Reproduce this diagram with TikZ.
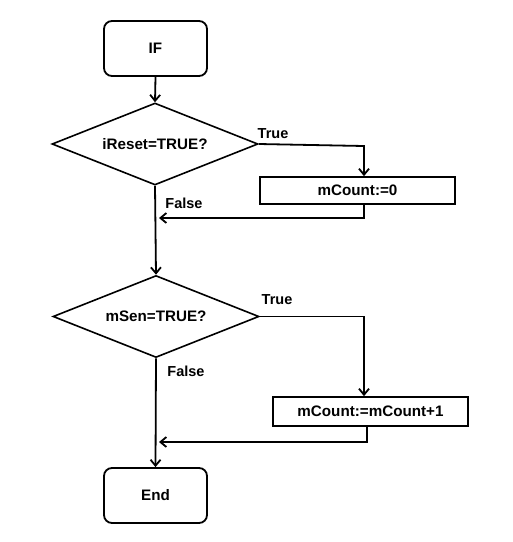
\documentclass[tikz,border=0pt]{standalone}
\usepackage{fontspec}
\setmainfont{Liberation Sans}
\usetikzlibrary{calc,arrows.meta,shapes.geometric}

\tikzset{
  flow/.style={line width=1.8pt,-{Straight Barb[length=6pt,width=10pt,line width=1.8pt]}},
  termbox/.style={draw,line width=1.8pt,rounded corners=8pt,minimum width=103pt,minimum height=55pt,inner sep=0pt},
  testbox/.style={draw,line width=1.6pt,diamond,aspect=2.5,minimum width=206pt,minimum height=82pt,inner sep=0pt},
  actbox/.style={draw,line width=1.8pt,minimum width=195pt,minimum height=27pt,inner sep=0pt},
  lbl/.style={font=\bfseries\fontsize{14.5}{16}\selectfont}
}

\begin{document}
\begin{tikzpicture}[x=1pt,y=-1pt,font=\bfseries\fontsize{15.2}{17}\selectfont]
  \useasboundingbox (0,0) rectangle (513,542);

  % blocks
  \node[termbox] (start) at (155.5,48.5) {IF};
  \node[testbox] (reset) at (155,144) {iReset=TRUE?};
  \node[actbox]  (clear) at (357.5,190.5) {mCount:=0};
  \node[testbox] (sens)  at (156,316.5) {mSen=TRUE?};
  \node[actbox,minimum height=29pt] (incr) at (370.5,411.5) {mCount:=mCount+1};
  \node[termbox] (stop)  at (155.5,495.5) {End};

  % bends of the side branches
  \coordinate (t1) at (364,146);
  \coordinate (r1) at (364,218);
  \coordinate (j1) at (159,218);
  \coordinate (t2) at (364,316.5);
  \coordinate (r2) at (367,442);
  \coordinate (j2) at (159,442);

  % main line
  \draw[flow] (start.south) -- (reset.north);
  \draw[flow] (reset.south) -- (sens.north);
  \draw[flow] (sens.south) -- (stop.north);

  % true branches
  \draw[flow] (reset.east) -- (t1) -- (t1 |- clear.north);
  \draw[flow] (r1 |- clear.south) -- (r1) -- (j1);
  \draw[flow] (sens.east) -- (t2) -- (t2 |- incr.north);
  \draw[flow] (r2 |- incr.south) -- (r2) -- (j2);

  % labels
  \node[lbl] (true1)  at (273,134) {True};
  \node[lbl] (false1) at (184,203) {False};
  \node[lbl] (true2)  at (277,300) {True};
  \node[lbl] (false2) at (186,371) {False};

\end{tikzpicture}
\end{document}
